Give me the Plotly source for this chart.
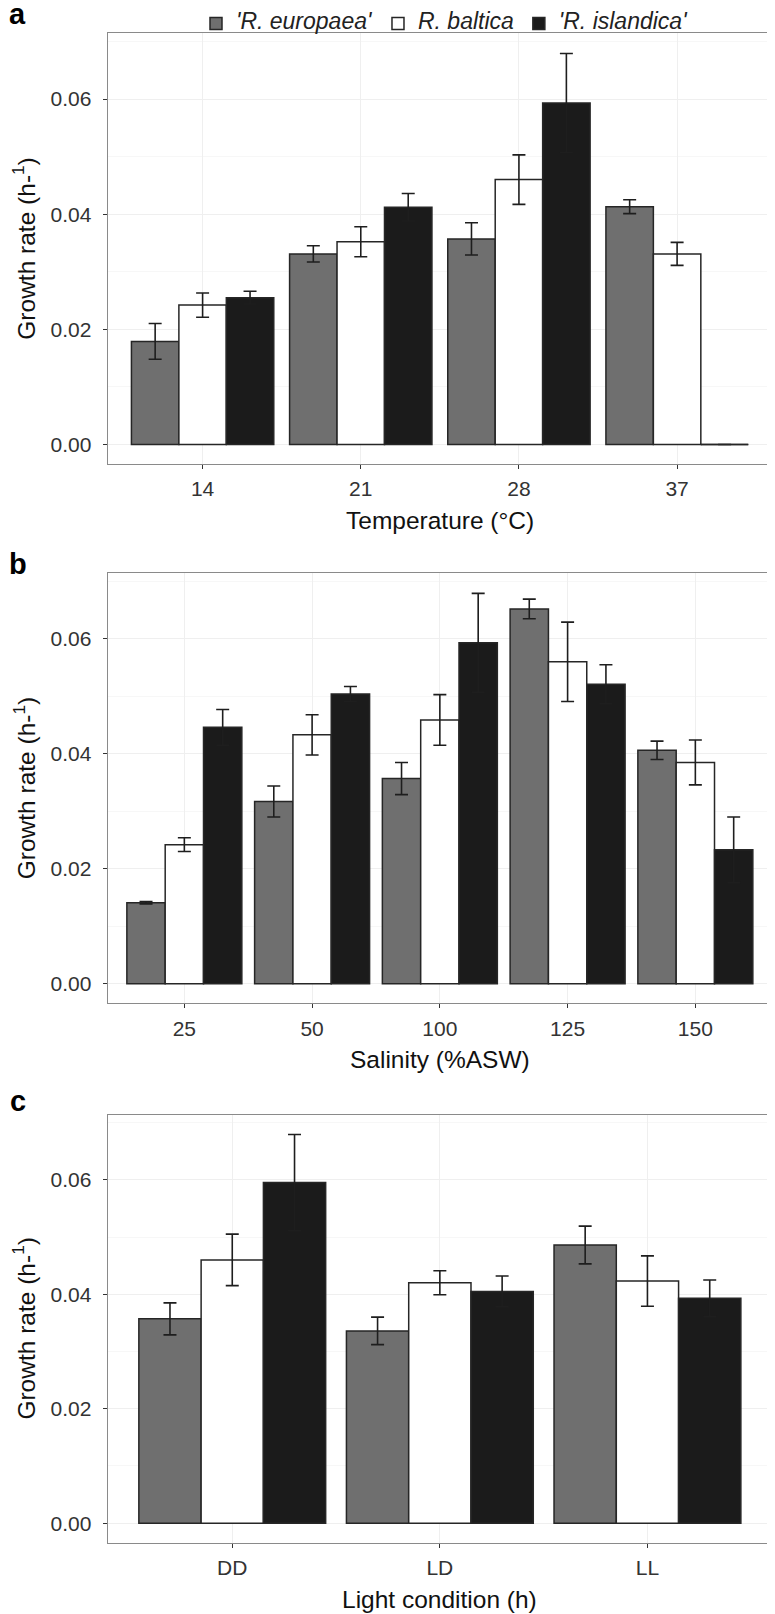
import plotly.graph_objects as go

# ---------------- data ----------------
series_names = ["'R. europaea'", "R. baltica", "'R. islandica'"]

temp_cats = ["14", "21", "28", "37"]
temp_eu = [0.0179, 0.0331, 0.0357, 0.0413]
temp_eu_err = [0.0031, 0.0014, 0.0028, 0.0012]
temp_ba = [0.0242, 0.0352, 0.0460, 0.0331]
temp_ba_err = [0.0021, 0.0026, 0.0043, 0.0020]
temp_is = [0.0255, 0.0412, 0.0593, 0.0]
temp_is_err = [0.0011, 0.0024, 0.0086, None]

sal_cats = ["25", "50", "100", "125", "150"]
sal_eu = [0.0141, 0.0317, 0.0357, 0.0652, 0.0406]
sal_eu_err = [0.0002, 0.0027, 0.0028, 0.0017, 0.0016]
sal_ba = [0.0242, 0.0433, 0.0459, 0.0560, 0.0385]
sal_ba_err = [0.0012, 0.0035, 0.0044, 0.0069, 0.0039]
sal_is = [0.0446, 0.0504, 0.0593, 0.0521, 0.0233]
sal_is_err = [0.0031, 0.0013, 0.0086, 0.0034, 0.0057]

light_cats = ["DD", "LD", "LL"]
light_eu = [0.0357, 0.0336, 0.0486]
light_eu_err = [0.0028, 0.0024, 0.0033]
light_ba = [0.0460, 0.0420, 0.0423]
light_ba_err = [0.0045, 0.0021, 0.0044]
light_is = [0.0595, 0.0405, 0.0393]
light_is_err = [0.0084, 0.0027, 0.0032]

y_ticks = [0.0, 0.02, 0.04, 0.06]
x_titles = ["Temperature (°C)", "Salinity (%ASW)", "Light condition (h)"]
panel_letters = ["a", "b", "c"]

# ---------------- layout helpers ----------------
# The page body has an 8px default margin, so the figure is drawn 8px in
# from the window's top-left corner; page positions are converted here.
OFF = 8
W, H = 775 - OFF, 1614 - OFF


def fx(px):
    return (px - OFF) / W


def fy(py):
    return 1 - (py - OFF) / H


fills = ["#6f6f6f", "#ffffff", "#1b1b1b"]
outline = "#262626"
FONT = "Liberation Sans, Arial, sans-serif"
LEGEND_TEXT_PX = 23

panels = [
    (temp_cats, [temp_eu, temp_ba, temp_is], [temp_eu_err, temp_ba_err, temp_is_err], (33.4, 464.0)),
    (sal_cats, [sal_eu, sal_ba, sal_is], [sal_eu_err, sal_ba_err, sal_is_err], (573.3, 1003.3)),
    (light_cats, [light_eu, light_ba, light_is], [light_eu_err, light_ba_err, light_is_err], (1114.5, 1542.7)),
]

x_left, x_right = 107.7, 772.0

fig = go.Figure()
shapes = []
annotations = []

for p, (cats, vals, errs, (ytop, ybot)) in enumerate(panels):
    xa = "x" if p == 0 else f"x{p+1}"
    ya = "y" if p == 0 else f"y{p+1}"
    for k in range(3):
        fig.add_trace(go.Bar(
            x=cats, y=vals[k],
            name=f"<span style='font-size:{LEGEND_TEXT_PX}px'><i>{series_names[k]}</i></span>",
            marker=dict(color=fills[k], line=dict(color=outline, width=1.5)),
            error_y=dict(type="data", array=errs[k], visible=True,
                         color="#1e1e1e", thickness=1.6, width=6.5),
            xaxis=xa, yaxis=ya, showlegend=(p == 0),
            legendgroup=series_names[k], offsetgroup=str(k),
        ))
        # zero-height bars drawn as a baseline outline (as in the original)
        for i, v in enumerate(vals[k]):
            if v == 0:
                c = i + (k - 1) * 0.3
                shapes.append(dict(type="line", xref=xa, yref=ya,
                                   x0=c - 0.15, x1=c + 0.15, y0=v, y1=v,
                                   line=dict(color=outline, width=1.5)))
    ax_key = "xaxis" if p == 0 else f"xaxis{p+1}"
    ay_key = "yaxis" if p == 0 else f"yaxis{p+1}"
    fig.layout[ax_key] = dict(
        type="category", domain=[fx(x_left), fx(x_right)], anchor=ya,
        range=[-0.6, len(cats) - 0.4],
        showline=True, mirror=True, linecolor="#8a8a8a", linewidth=1.2,
        showgrid=True, gridcolor="#efefef", gridwidth=1,
        ticks="outside", ticklen=4, tickcolor="#333333", tickwidth=1.2,
        tickfont=dict(family=FONT, size=21, color="#333333"),
        ticklabelstandoff=2, zeroline=False, fixedrange=True,
    )
    fig.layout[ay_key] = dict(
        domain=[fy(ybot), fy(ytop)], anchor=xa, range=[-0.0034, 0.0714],
        tickvals=y_ticks, tickformat=".2f",
        showline=True, mirror=True, linecolor="#8a8a8a", linewidth=1.2,
        showgrid=True, gridcolor="#efefef", gridwidth=1,
        minor=dict(dtick=0.01, tick0=0.0, showgrid=True, gridcolor="#f7f7f7", gridwidth=1),
        ticks="outside", ticklen=4, tickcolor="#333333", tickwidth=1.2,
        tickfont=dict(family=FONT, size=21, color="#333333"),
        ticklabelstandoff=7, zeroline=False, fixedrange=True,
    )
    # axis titles
    annotations.append(dict(text=x_titles[p], xref="paper", yref="paper",
                            x=fx((x_left + x_right) / 2), y=fy(ybot + 56.5),
                            xanchor="center", yanchor="middle", showarrow=False,
                            font=dict(family=FONT, size=24.5, color="#111111")))
    annotations.append(dict(text="Growth rate (h-<sup>1</sup>)", xref="paper", yref="paper",
                            x=fx(24), y=fy((ytop + ybot) / 2), textangle=-90,
                            xanchor="center", yanchor="middle", showarrow=False,
                            font=dict(family=FONT, size=24.5, color="#111111")))

# panel letters
letter_y = [13.5, 564, 1101]
for p in range(3):
    annotations.append(dict(text=f"<b>{panel_letters[p]}</b>", xref="paper", yref="paper",
                            x=fx(17.5), y=fy(letter_y[p]), xanchor="center", yanchor="middle",
                            showarrow=False, font=dict(family=FONT, size=29, color="#000000")))

fig.update_layout(
    width=W, height=H, autosize=False,
    margin=dict(l=0, r=0, t=0, b=0),
    paper_bgcolor="white", plot_bgcolor="white",
    barmode="group", bargap=0.1, bargroupgap=0.0,
    showlegend=True,
    legend=dict(orientation="h", x=fx(445), y=1, xanchor="center", yanchor="top",
                font=dict(family=FONT, size=14, color="#222222"),
                itemwidth=30, bgcolor="rgba(0,0,0,0)", tracegroupgap=0,
                borderwidth=0, itemclick=False, itemdoubleclick=False),
    shapes=shapes, annotations=annotations,
)

fig.write_html("out.html")
